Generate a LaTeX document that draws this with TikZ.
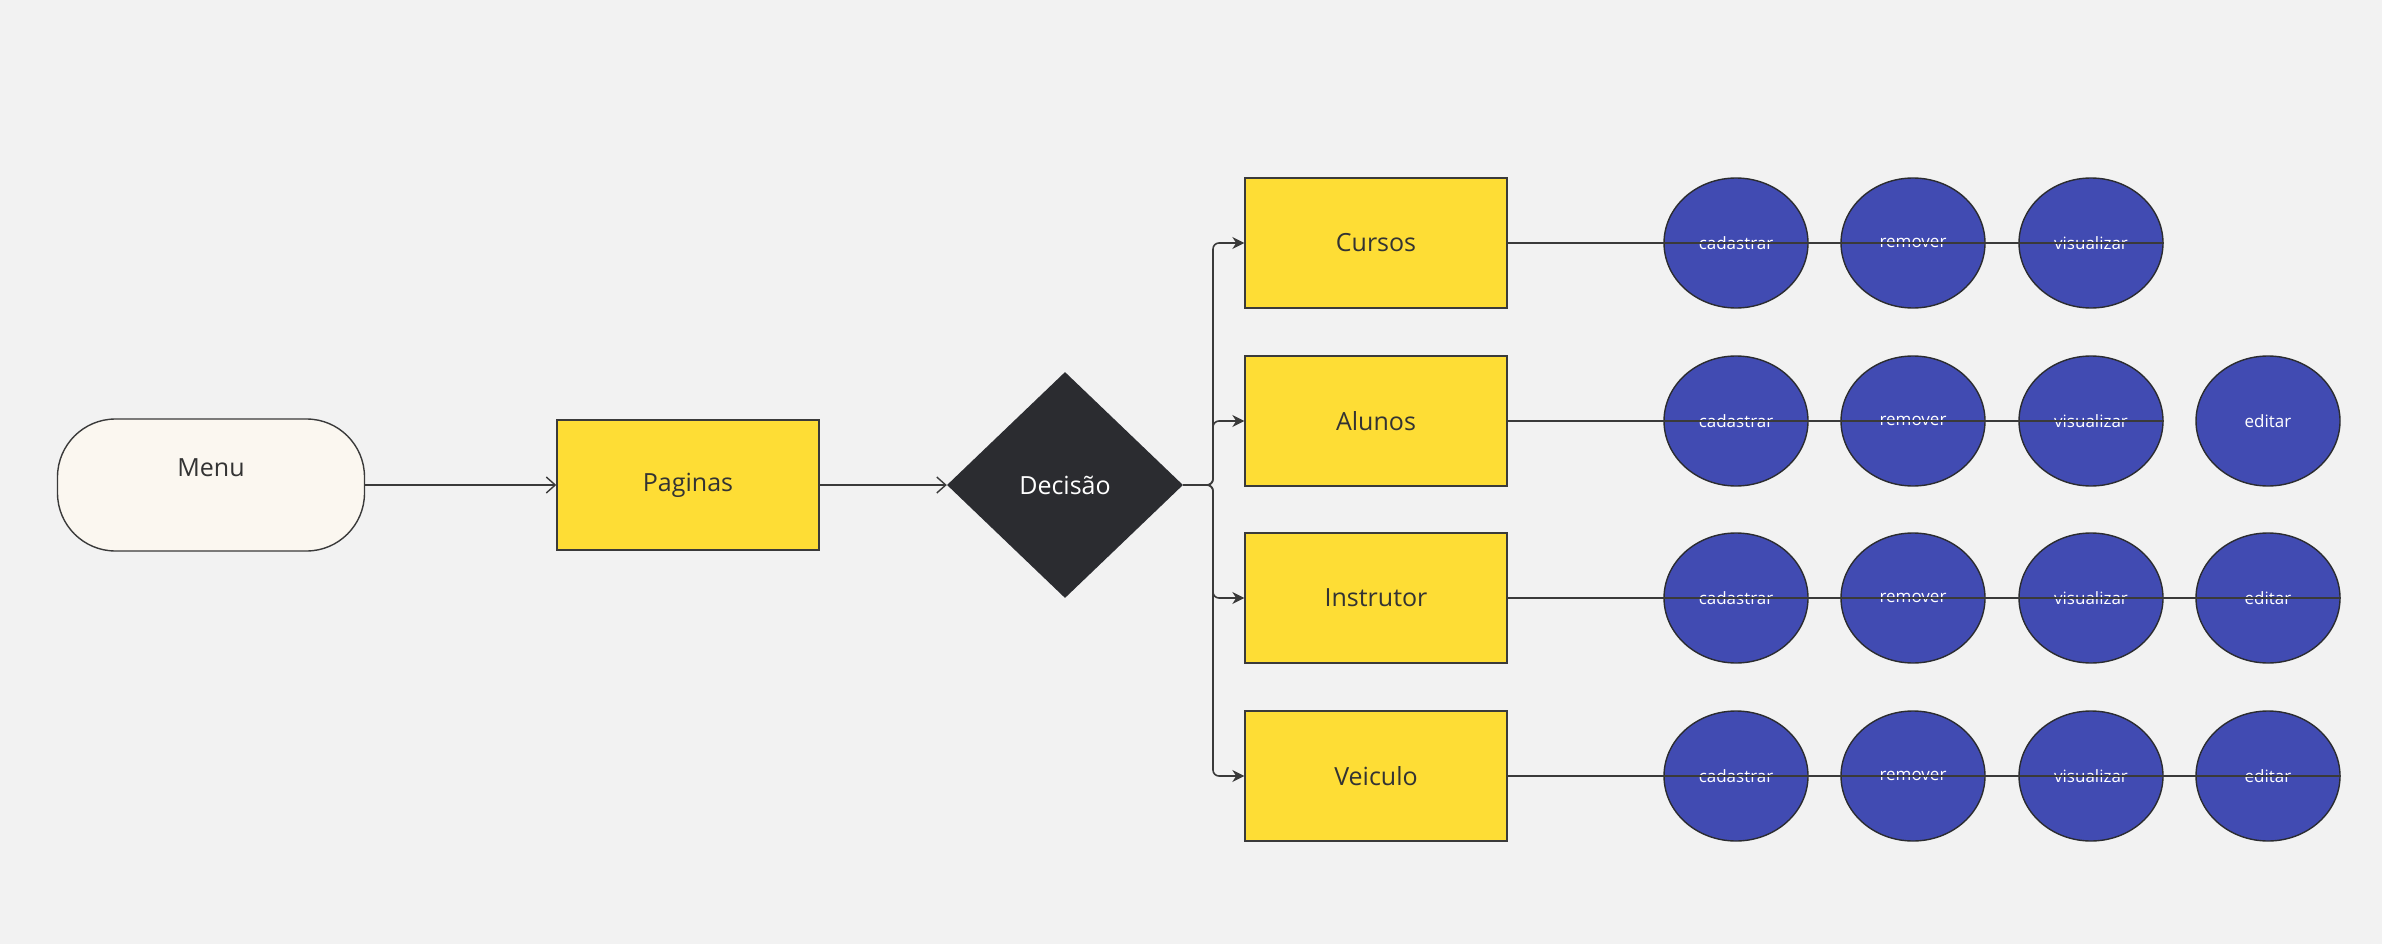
\documentclass[tikz,border=0pt]{standalone}
\usepackage{fontspec}
\setmainfont{Open Sans}
\usepackage{tikz}
\usetikzlibrary{shapes.geometric, arrows.meta}

\definecolor{bgcol}{HTML}{F2F2F2}
\definecolor{boxyellow}{HTML}{FEDD35}
\definecolor{opblue}{HTML}{414BB2}
\definecolor{decdark}{HTML}{2B2C30}
\definecolor{menufill}{HTML}{FBF7F0}
\definecolor{linecol}{HTML}{3A3A3A}
\definecolor{textcol}{HTML}{333333}

\begin{document}
\begin{tikzpicture}[x=1pt, y=-1pt,
    pagebox/.style={rectangle, draw=linecol, line width=1.4pt, fill=boxyellow, minimum width=262pt, minimum height=130pt, text=textcol, font=\fontsize{25}{30}\selectfont},
    opcircle/.style={ellipse, draw=decdark, line width=1.4pt, fill=opblue, minimum width=144pt, minimum height=130pt, inner sep=0pt, text=white, font=\fontsize{17}{20}\selectfont},
    link/.style={draw=linecol, line width=1.6pt},
    openarrow/.style={link, -{Straight Barb[length=9pt, width=16pt, line width=1.4pt]}},
    branch/.style={link, rounded corners=6pt, -{Stealth[length=12pt, width=12pt]}}
]
            % background
            \fill[bgcol] (0,0) rectangle (2382,944);

            % Menu
            \node[rectangle, rounded corners=58pt, draw=linecol, line width=1.4pt, fill=menufill, minimum width=307pt, minimum height=132pt,
                label={[text=textcol, font=\fontsize{25}{30}\selectfont, yshift=17pt]center:Menu}] (menu) at (211, 485) {};

            % Paginas
            \node[pagebox] (paginas) at (688, 485) {Paginas};
            \draw[openarrow] (menu) -- (paginas);

            % Decisao
            \node[diamond, fill=decdark, minimum width=236pt, minimum height=226pt, inner sep=0pt, text=white, font=\fontsize{25}{30}\selectfont] (dec) at (1065, 485) {Decisão};
            \draw[openarrow] (paginas) -- (dec);
            \coordinate (split) at (1213, 485);

            % Cursos
            \node[pagebox] (cursos) at (1376, 243) {Cursos};
            \node[opcircle] (r1a) at (1736, 243) {cadastrar};
            \node[opcircle] (r1b) at (1913, 243) {remover};
            \node[opcircle] (r1c) at (2091, 243) {visualizar};
            \draw[branch] (dec.east) -- (split) |- (cursos.west);
            \draw[link] (cursos.east) -- (r1c.east);

            % Alunos
            \node[pagebox] (alunos) at (1376, 421) {Alunos};
            \node[opcircle] (r2a) at (1736, 421) {cadastrar};
            \node[opcircle] (r2b) at (1913, 421) {remover};
            \node[opcircle] (r2c) at (2091, 421) {visualizar};
            \node[opcircle] (r2d) at (2268, 421) {editar};
            \draw[branch] (dec.east) -- (split) |- (alunos.west);
            \draw[link] (alunos.east) -- (r2c.east);

            % Instrutor
            \node[pagebox] (instrutor) at (1376, 598) {Instrutor};
            \node[opcircle] (r3a) at (1736, 598) {cadastrar};
            \node[opcircle] (r3b) at (1913, 598) {remover};
            \node[opcircle] (r3c) at (2091, 598) {visualizar};
            \node[opcircle] (r3d) at (2268, 598) {editar};
            \draw[branch] (dec.east) -- (split) |- (instrutor.west);
            \draw[link] (instrutor.east) -- (r3d.east);

            % Veiculo
            \node[pagebox] (veiculo) at (1376, 776) {Veiculo};
            \node[opcircle] (r4a) at (1736, 776) {cadastrar};
            \node[opcircle] (r4b) at (1913, 776) {remover};
            \node[opcircle] (r4c) at (2091, 776) {visualizar};
            \node[opcircle] (r4d) at (2268, 776) {editar};
            \draw[branch] (dec.east) -- (split) |- (veiculo.west);
            \draw[link] (veiculo.east) -- (r4d.east);
        \end{tikzpicture}
\end{document}
